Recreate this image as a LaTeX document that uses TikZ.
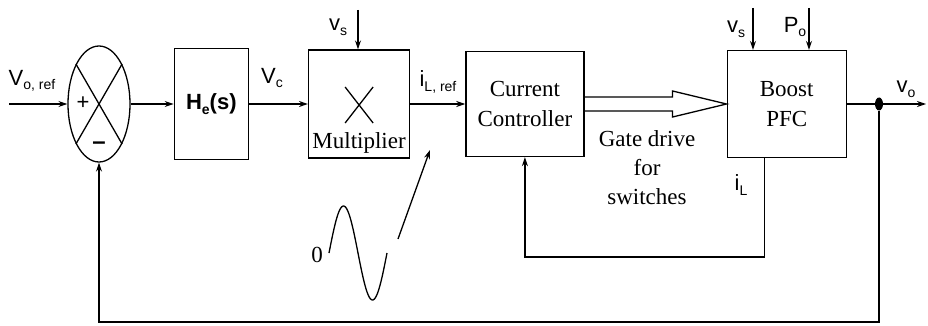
\documentclass[tikz,border=0pt]{standalone}
\usepackage{fontspec}
\setmainfont{Liberation Serif}
\newfontfamily\labelfont{Liberation Sans}
\usepackage{tikz}
\usetikzlibrary{calc,positioning,shapes.geometric,arrows.meta}
\newcommand{\lsub}[1]{\raisebox{-0.4ex}{\fontsize{14}{14}\selectfont #1}}

\begin{document}
\begin{tikzpicture}[x=1pt, y=-1pt,
    block/.style={rectangle, draw, line width=1.3pt, inner sep=0pt, align=center,
        font=\fontsize{23}{30}\selectfont},
    sig/.style={inner sep=0pt, font=\labelfont\fontsize{22}{24}\selectfont},
    arr/.style={-{Stealth[length=9pt, width=6pt]}, line width=1.3pt}
]
\useasboundingbox (0,0) rectangle (928,326);

% forward path
\node[ellipse, draw, line width=1.3pt, minimum width=62pt, minimum height=116pt, inner sep=0pt] (sum) at (99,104) {};
\node[block, minimum width=74pt, minimum height=111pt, right=43pt of sum, font=\labelfont\bfseries\fontsize{22}{24}\selectfont] (he) {H\lsub{e}(s)};
\node[block, minimum width=101pt, minimum height=108pt, right=59pt of he] (mult) {};
\node[block, minimum width=118pt, minimum height=105pt, right=55pt of mult] (cc) {Current\\Controller};
\node[block, minimum width=119pt, minimum height=107pt, right=142pt of cc] (boost) {Boost\\PFC};
\node[ellipse, fill, inner sep=0pt, minimum width=8pt, minimum height=13pt] (tap) at (879,104) {};

% summing junction
\draw[line width=1.3pt] (sum.120) -- (sum.-60);
\draw[line width=1.3pt] (sum.60) -- (sum.-120);
\node[sig] (plus) at (83,103) {+};
\node[sig, font=\labelfont\bfseries\fontsize{24}{24}\selectfont] (minus) at (99,146) {\textendash};

% multiplier
\draw[line width=1.3pt] ([shift={(-14,-17)}]mult.center) -- ([shift={(14,19)}]mult.center);
\draw[line width=1.3pt] ([shift={(14,-17)}]mult.center) -- ([shift={(-14,19)}]mult.center);
\node[inner sep=0pt, above=5pt of mult.south, font=\fontsize{23}{26}\selectfont] (multtxt) {Multiplier};

\coordinate (vin) at (9,104);
\coordinate (vout) at (926,104);
\coordinate (vsm) at (358,10);
\coordinate (vsb) at (753,8);
\coordinate (pob) at (809,8);
\coordinate (fbl) at (99,322);
\coordinate (loopy) at (0,257);

\draw[arr] (vin) -- (sum);
\draw[arr] (sum) -- (he);
\draw[arr] (he) -- (mult);
\draw[arr] (mult) -- (cc);
\draw[arr] (vsm) -- (vsm |- mult.north);
\draw[arr] (vsb) -- (vsb |- boost.north);
\draw[arr] (pob) -- (pob |- boost.north);
\draw[line width=1.3pt] (boost) -- (tap);
\draw[arr] (tap) -- (vout);
\draw[arr] (tap) |- (fbl) -- (sum);
\draw[arr] ([xshift=-22pt]boost.south) |- (cc |- loopy) -- (cc.south);

% gate drive (hollow arrow)
\draw[line width=1.3pt, line join=miter] ([yshift=7pt]cc.east) -- ++(88,0) -- ++(0,-6) -- (boost.west)
    -- ++(-54,13) -- ++(0,-6) -- ([yshift=-7pt]cc.east);

% labels
\node[sig] (vref) at (32,81) {V\lsub{o, ref}};
\node[sig] (vc) at (272,78) {V\lsub{c}};
\node[sig] (vs1) at (338,27) {v\lsub{s}};
\node[sig] (ilref) at (438,82) {i\lsub{L, ref}};
\node[sig] (vs2) at (736,29) {v\lsub{s}};
\node[sig] (po) at (795,27) {P\lsub{o}};
\node[sig] (vo) at (906,89) {v\lsub{o}};
\node[sig] (il) at (741,185) {i\lsub{L}};
\node[align=center, font=\fontsize{23}{29}\selectfont] (gate) at (647,168) {Gate drive\\for\\switches};

% sinusoidal template
\draw[line width=1.3pt] plot[domain=0:360, samples=60, smooth] ({329+0.1611*\x}, {253-47*sin(\x)});
\node[font=\fontsize{23}{26}\selectfont, inner sep=0pt] (zero) at (317,255) {0};
\coordinate (sa) at (398,239);
\coordinate (sb) at (430,150);
\draw[arr] (sa) -- (sb);
\end{tikzpicture}
\end{document}
